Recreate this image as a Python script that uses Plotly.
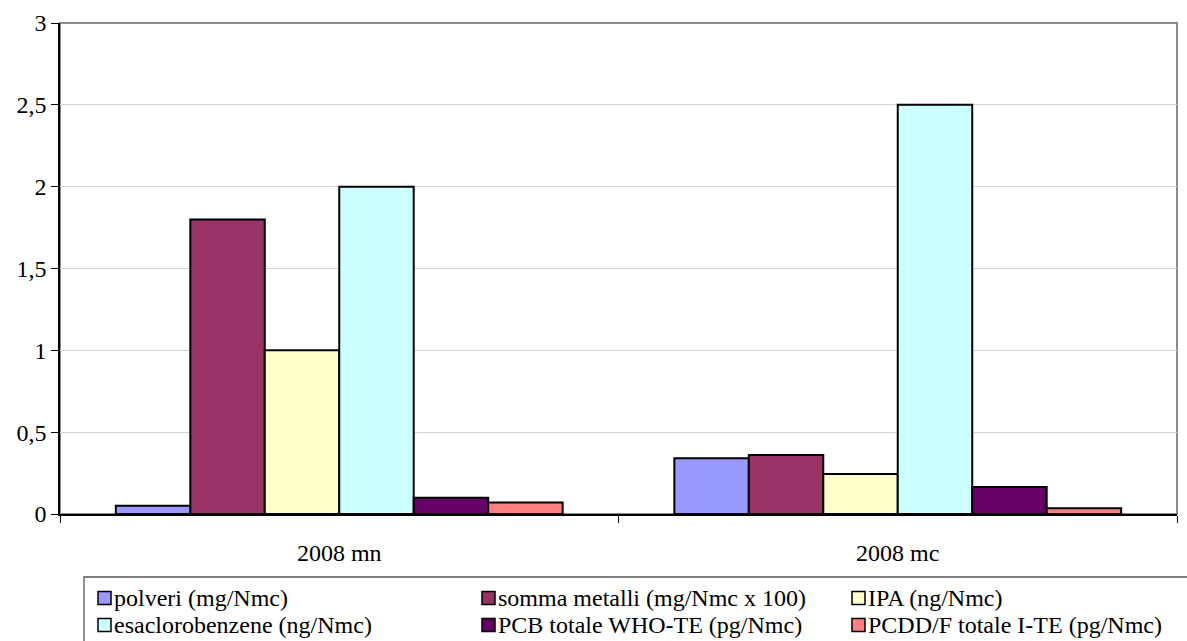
import plotly.graph_objects as go

# Categories and measured values for each pollutant series
categories = ["2008 mn", "2008 mc"]
series_names = [
    "polveri (mg/Nmc)",
    "somma metalli (mg/Nmc x 100)",
    "IPA (ng/Nmc)",
    "esaclorobenzene (ng/Nmc)",
    "PCB totale WHO-TE (pg/Nmc)",
    "PCDD/F totale I-TE (pg/Nmc)",
]
polveri = [0.05, 0.34]
somma_metalli = [1.8, 0.36]
ipa = [1.0, 0.245]
esaclorobenzene = [2.0, 2.5]
pcb_totale = [0.1, 0.165]
pcdd_f_totale = [0.07, 0.035]

y_tickvals = [0, 0.5, 1, 1.5, 2, 2.5, 3]
y_ticktext = ["0", "0,5", "1", "1,5", "2", "2,5", "3"]

series_values = [polveri, somma_metalli, ipa, esaclorobenzene, pcb_totale, pcdd_f_totale]
colors = ["#9999FF", "#993366", "#FFFFCC", "#CCFFFF", "#660066", "#FF8080"]

FONT = "Times New Roman"
W, H = 1187, 641
L, R, T, B = 60, 1177, 23, 514  # plot area in pixels


def px_x(px):
    return (px - L) / (R - L)


def px_y(py):
    return (B - py) / (B - T)


fig = go.Figure()
for name, vals, col in zip(series_names, series_values, colors):
    fig.add_trace(go.Bar(
        x=categories, y=vals, name=name,
        marker=dict(color=col, line=dict(color="#000000", width=2)),
        showlegend=False,
    ))

shapes = [
    # plot-area frame
    dict(type="rect", xref="paper", yref="paper", x0=0, x1=1, y0=0, y1=1,
         line=dict(color="#8a8a8a", width=2), layer="between"),
    # legend frame
    dict(type="rect", xref="paper", yref="paper",
         x0=px_x(84), x1=px_x(1200), y0=px_y(577), y1=px_y(660),
         line=dict(color="#555555", width=1.3), fillcolor="rgba(0,0,0,0)"),
]
annotations = []

# legend entries: 3 columns x 2 rows
col_sym_x = [98, 482, 852]
row_y = [598, 625]
for i, (name, col) in enumerate(zip(series_names, colors)):
    r, c = divmod(i, 3)
    sx, cy = col_sym_x[c], row_y[r]
    shapes.append(dict(type="rect", xref="paper", yref="paper",
                       x0=px_x(sx), x1=px_x(sx + 13), y0=px_y(cy + 6.5), y1=px_y(cy - 6.5),
                       fillcolor=col, line=dict(color="#000000", width=1.5)))
    annotations.append(dict(xref="paper", yref="paper", x=px_x(sx + 14), y=px_y(cy),
                            xanchor="left", yanchor="middle", showarrow=False,
                            text=name, font=dict(family=FONT, size=24, color="#000000")))

fig.update_layout(
    width=W, height=H, autosize=False,
    margin=dict(l=L, r=W - R, t=T, b=H - B, pad=0),
    paper_bgcolor="#ffffff", plot_bgcolor="#ffffff",
    barmode="group", bargap=0.2, bargroupgap=0,
    font=dict(family=FONT, size=24, color="#000000"),
    shapes=shapes, annotations=annotations,
    showlegend=False,
)
fig.update_xaxes(
    type="category", showgrid=False, zeroline=False,
    showline=True, linecolor="#000000", linewidth=1.5,
    ticks="outside", tickson="boundaries", ticklen=7, tickcolor="#000000", tickwidth=1,
    tickfont=dict(family=FONT, size=24), ticklabelstandoff=16,
)
fig.update_yaxes(
    range=[0, 3], tickvals=y_tickvals, ticktext=y_ticktext,
    showgrid=True, gridcolor="#d4d4d4", gridwidth=1, zeroline=False,
    showline=True, linecolor="#000000", linewidth=1.5,
    ticks="outside", ticklen=7, tickcolor="#000000", tickwidth=1,
    tickfont=dict(family=FONT, size=24),
)

fig.write_html("out.html")
